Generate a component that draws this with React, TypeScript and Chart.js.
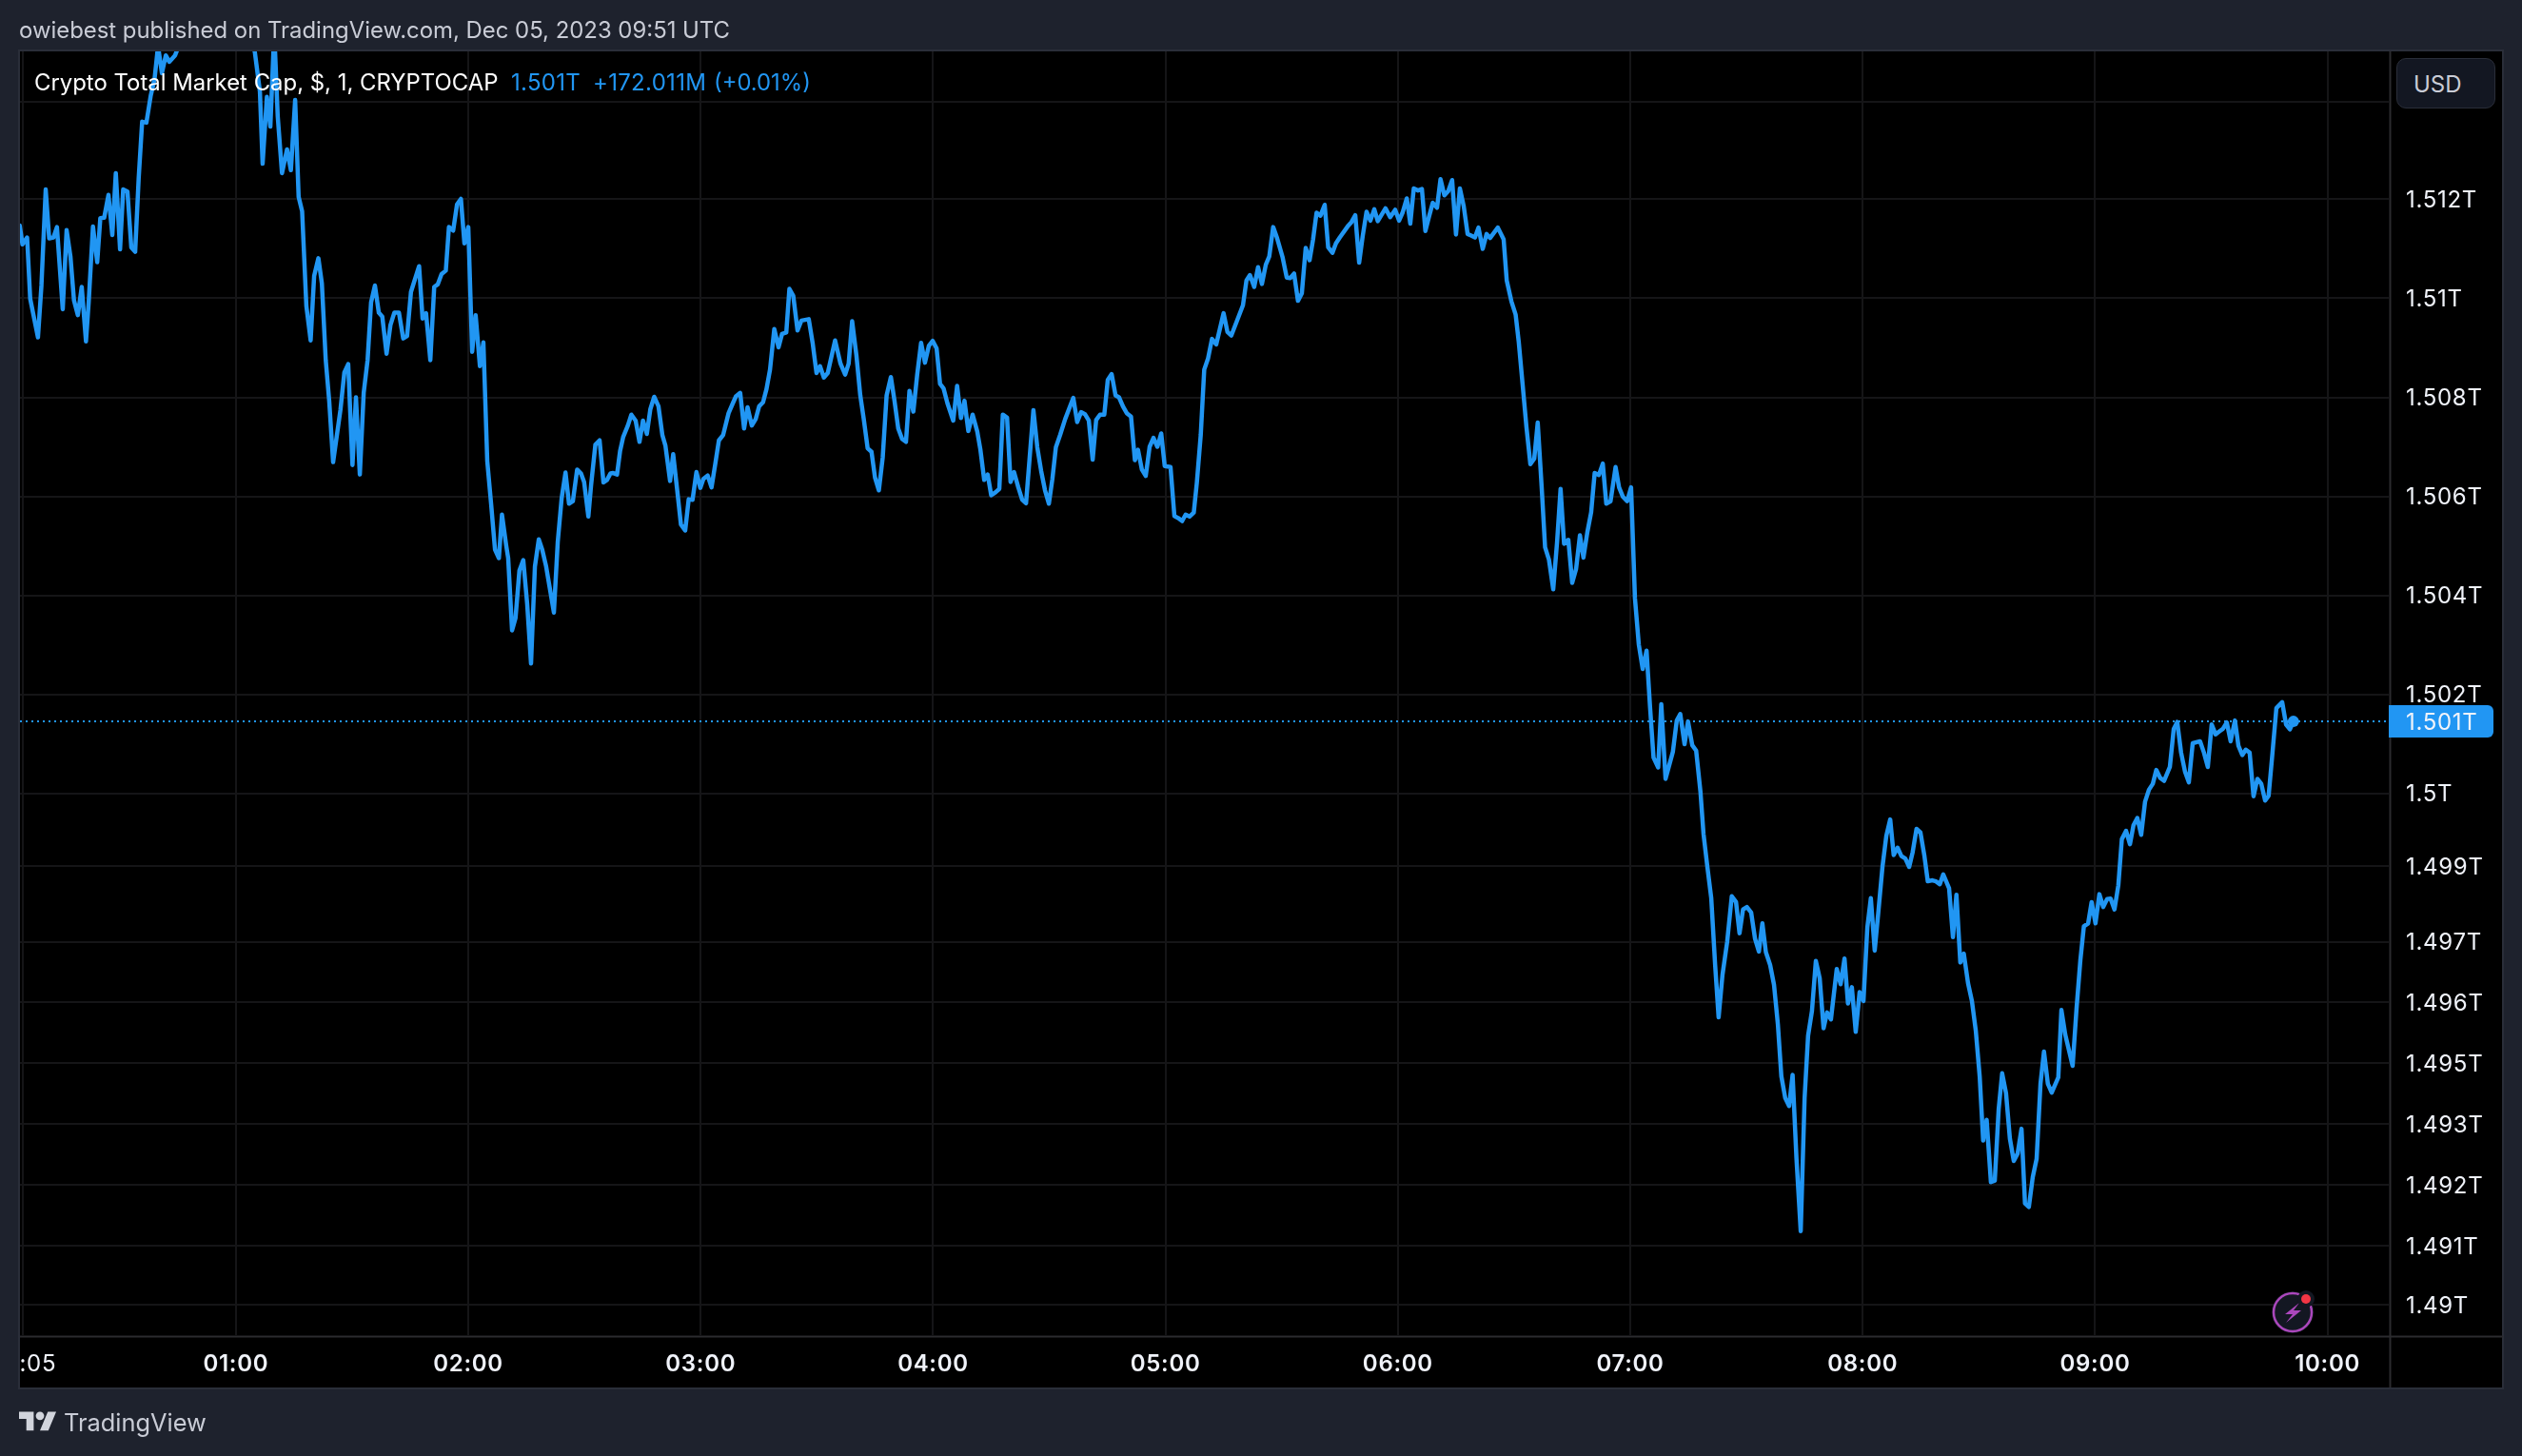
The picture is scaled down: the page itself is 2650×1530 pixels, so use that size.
import React, { useEffect, useRef } from "react";
import { Chart, registerables } from "chart.js";

Chart.register(...registerables);

// Each pair: minutes after 00:00 UTC, total market cap in $ billions
const hour0 = [[4.2,1511.47],[4.9,1511.09],[6.1,1511.23],[6.9,1509.99],[8.9,1509.21],[9.8,1510.26],[10.9,1512.20],[11.8,1511.21],[12.9,1511.23],[13.8,1511.44],[15.3,1509.78],[16.3,1511.38],[17.3,1510.84],[18.2,1509.96],[19.2,1509.66],[20.2,1510.23],[21.3,1509.13],[22.0,1509.92],[23.1,1511.45],[24.2,1510.73],[25.0,1511.62],[26.0,1511.63],[27.1,1512.09],[28.1,1511.28],[29.0,1512.53],[30.1,1510.99],[30.9,1512.20],[32.0,1512.16],[33.0,1511.03],[34.0,1510.94],[34.9,1512.42],[35.8,1513.57],[36.9,1513.55],[38.0,1514.09],[39.0,1514.43],[39.9,1515.1],[40.9,1514.55],[41.9,1514.91],[42.8,1514.78],[44.3,1514.91],[44.8,1515.01],[46.5,1515.8],[52,1516.6],[58,1516.2]];
const hour1 = [[63,1515.6],[64.9,1514.97],[66.2,1514.18],[66.9,1512.72],[68.0,1514.07],[68.9,1513.47],[69.9,1515.4],[70.8,1513.68],[71.9,1512.53],[73.2,1513.01],[74.2,1512.59],[75.3,1514.01],[76.2,1512.05],[77.1,1511.76],[78.2,1509.84],[79.3,1509.15],[80.2,1510.45],[81.3,1510.81],[82.2,1510.30],[83.2,1508.75],[84.1,1507.92],[85.1,1506.69],[87.0,1507.75],[88.0,1508.50],[89.0,1508.67],[90.1,1506.63],[91.0,1508.00],[92.0,1506.44],[93.0,1508.09],[94.0,1508.75],[94.9,1509.92],[95.9,1510.26],[96.9,1509.71],[97.8,1509.63],[98.9,1508.88],[99.9,1509.46],[100.9,1509.71],[102.1,1509.71],[103.2,1509.19],[104.2,1509.24],[105.2,1510.13],[107.3,1510.65],[108.2,1509.59],[109.1,1509.70],[110.2,1508.75],[111.2,1510.23],[112.1,1510.28],[113.1,1510.49],[114.2,1510.56],[115.0,1511.44],[116.1,1511.37],[117.1,1511.90],[118.1,1512.01],[119.0,1511.11]];
const hour2 = [[120.0,1511.44],[121.0,1508.92],[121.9,1509.66],[123.0,1508.63],[123.9,1509.11],[124.9,1506.71],[125.9,1505.84],[126.9,1504.92],[127.9,1504.75],[128.7,1505.63],[129.8,1505.00],[130.3,1504.75],[131.3,1503.29],[132.2,1503.54],[133.2,1504.50],[134.2,1504.71],[135.2,1503.83],[136.2,1502.62],[137.2,1504.58],[138.2,1505.13],[139.1,1504.92],[140.1,1504.58],[142.1,1503.65],[143.1,1505.08],[144.1,1505.96],[145.1,1506.48],[146.0,1505.85],[147.0,1505.90],[148.1,1506.54],[149.1,1506.46],[149.9,1506.29],[151.0,1505.59],[151.7,1506.22],[152.8,1507.04],[153.9,1507.13],[154.9,1506.28],[155.8,1506.33],[156.7,1506.46],[157.4,1506.47],[158.4,1506.44],[159.2,1506.92],[160.0,1507.20],[161.2,1507.43],[162.1,1507.65],[163.2,1507.53],[164.2,1507.10],[165.1,1507.53],[166.1,1507.26],[167.0,1507.76],[168.0,1508.01],[169.1,1507.82],[170.1,1507.24],[170.9,1507.02],[172.1,1506.31],[172.9,1506.85],[173.9,1506.15],[174.9,1505.43],[176.0,1505.31],[176.9,1505.94],[177.9,1505.93],[178.9,1506.49],[179.9,1506.17]];
const hour3 = [[180.7,1506.35],[181.8,1506.42],[182.8,1506.18],[183.8,1506.67],[184.7,1507.13],[185.8,1507.24],[187.2,1507.68],[188.3,1507.88],[189.1,1508.02],[190.2,1508.09],[191.2,1507.37],[192.1,1507.80],[193.2,1507.43],[194.2,1507.56],[195.1,1507.82],[196.1,1507.90],[197.0,1508.17],[197.9,1508.56],[199.0,1509.38],[200.1,1509.01],[201.0,1509.28],[202.1,1509.31],[202.9,1510.19],[203.9,1510.05],[205.0,1509.35],[206.0,1509.55],[207.9,1509.58],[208.9,1509.10],[209.9,1508.49],[210.8,1508.63],[211.8,1508.40],[212.8,1508.49],[214.7,1509.15],[216.1,1508.68],[217.3,1508.46],[218.2,1508.68],[219.1,1509.54],[220.2,1508.85],[221.2,1508.04],[222.1,1507.56],[223.1,1506.97],[224.1,1506.90],[225.0,1506.38],[226.0,1506.12],[227.0,1506.79],[228.0,1508.04],[229.1,1508.41],[230.0,1507.95],[231.0,1507.37],[232.0,1507.16],[233.0,1507.10],[233.9,1508.13],[234.9,1507.71],[235.9,1508.46],[236.9,1509.10],[237.9,1508.70],[238.9,1509.04],[239.9,1509.14]];
const hour4 = [[240.9,1508.99],[241.8,1508.27],[242.7,1508.18],[243.7,1507.88],[245.2,1507.53],[246.2,1508.23],[247.2,1507.58],[248.1,1507.93],[249.1,1507.32],[250.2,1507.65],[251.4,1507.31],[252.2,1506.95],[253.2,1506.33],[254.1,1506.44],[255.0,1506.02],[256.1,1506.08],[257.1,1506.15],[258.0,1507.65],[259.1,1507.59],[260.0,1506.29],[260.9,1506.49],[262.0,1506.18],[263.0,1505.93],[264.0,1505.86],[265.9,1507.74],[266.9,1506.99],[267.9,1506.51],[268.9,1506.12],[269.9,1505.85],[270.8,1506.35],[271.7,1506.99],[272.8,1507.24],[274.1,1507.56],[276.2,1507.99],[277.2,1507.50],[278.2,1507.70],[279.2,1507.66],[280.2,1507.53],[281.2,1506.74],[282.1,1507.54],[283.1,1507.65],[284.2,1507.65],[285.1,1508.35],[286.1,1508.47],[287.1,1508.04],[288.0,1508.00],[289.0,1507.82],[290.0,1507.68],[291.1,1507.61],[292.1,1506.73],[292.9,1506.94],[293.9,1506.54],[294.9,1506.41],[295.9,1507.00],[296.9,1507.18],[297.9,1507.00],[298.9,1507.27],[299.8,1506.61]];
const hour5 = [[301.3,1506.59],[302.3,1505.60],[303.3,1505.56],[304.3,1505.50],[305.2,1505.63],[306.2,1505.59],[307.3,1505.67],[308.1,1506.28],[309.1,1507.24],[310.0,1508.56],[311.0,1508.79],[312.0,1509.18],[313.1,1509.07],[315.0,1509.70],[316.0,1509.32],[317.0,1509.25],[320.0,1509.86],[320.9,1510.36],[321.8,1510.47],[322.9,1510.23],[323.9,1510.63],[324.9,1510.29],[325.9,1510.68],[326.8,1510.85],[327.8,1511.44],[328.8,1511.22],[330.2,1510.84],[331.3,1510.42],[332.2,1510.41],[333.2,1510.50],[334.2,1509.95],[335.2,1510.10],[336.2,1511.02],[337.2,1510.77],[338.1,1511.19],[339.0,1511.73],[340.0,1511.67],[341.1,1511.89],[342.0,1511.03],[343.1,1510.92],[344.0,1511.11],[345.0,1511.23],[347.0,1511.45],[348.0,1511.54],[349.0,1511.68],[350.0,1510.72],[350.9,1511.25],[351.9,1511.75],[352.9,1511.57],[353.9,1511.80],[354.8,1511.56],[356.8,1511.82],[358.0,1511.64],[359.3,1511.79]];
const hour6 = [[360.3,1511.57],[361.2,1511.73],[362.3,1512.02],[363.2,1511.51],[364.1,1512.22],[365.2,1512.18],[366.2,1512.21],[367.1,1511.36],[368.1,1511.67],[369.0,1511.93],[370.1,1511.83],[371.0,1512.41],[372.0,1512.08],[373.0,1512.17],[374.0,1512.39],[375.0,1511.29],[376.0,1512.22],[377.0,1511.86],[378.0,1511.30],[378.9,1511.27],[379.9,1511.23],[380.8,1511.43],[381.9,1511.00],[382.9,1511.30],[383.8,1511.22],[385.8,1511.43],[387.3,1511.19],[388.1,1510.36],[389.3,1509.94],[390.4,1509.67],[391.2,1509.12],[392.2,1508.26],[393.2,1507.39],[394.2,1506.65],[395.2,1506.76],[396.1,1507.49],[397.1,1506.21],[398.0,1504.97],[399.0,1504.72],[400.1,1504.12],[401.1,1505.08],[402.0,1506.15],[402.9,1505.04],[404.0,1505.12],[405.0,1504.25],[406.0,1504.53],[407.0,1505.21],[407.9,1504.76],[408.9,1505.27],[409.9,1505.68],[410.8,1506.47],[411.9,1506.43],[412.9,1506.66],[413.8,1505.85],[414.9,1505.90],[416.2,1506.59],[417.1,1506.18],[418.1,1505.99],[419.2,1505.90]];
const hour7 = [[420.2,1506.18],[421.2,1503.94],[422.2,1503.00],[423.2,1502.51],[424.2,1502.88],[425.1,1501.74],[426.0,1500.72],[427.2,1500.52],[428.0,1501.80],[429.1,1500.29],[430.0,1500.55],[431.0,1500.84],[432.0,1501.47],[432.9,1501.60],[434.0,1500.99],[434.9,1501.45],[436.0,1500.97],[437.0,1500.86],[438.1,1500.04],[438.9,1499.18],[439.9,1498.51],[440.9,1497.88],[441.9,1496.53],[442.8,1495.47],[443.8,1496.33],[445.0,1496.99],[446.2,1497.92],[447.3,1497.80],[448.2,1497.17],[449.1,1497.65],[450.1,1497.70],[451.2,1497.59],[452.2,1497.06],[453.2,1496.80],[454.1,1497.37],[455.0,1496.79],[456.1,1496.53],[457.1,1496.13],[458.1,1495.33],[459.0,1494.28],[460.0,1493.84],[461.0,1493.68],[461.9,1494.31],[462.9,1492.62],[464.0,1491.15],[465.0,1493.84],[465.9,1495.10],[466.9,1495.60],[467.9,1496.61],[468.9,1496.26],[469.9,1495.25],[470.8,1495.57],[471.8,1495.43],[473.3,1496.45],[474.3,1496.14],[475.3,1496.66],[476.2,1495.75],[477.2,1496.08],[478.2,1495.18],[479.2,1495.98]];
const hour8 = [[480.2,1495.80],[481.2,1497.29],[482.1,1497.88],[483.1,1496.82],[484.1,1497.65],[485.1,1498.51],[486.1,1499.14],[487.1,1499.47],[488.0,1498.75],[489.0,1498.90],[490.0,1498.73],[491.0,1498.68],[492.0,1498.51],[492.9,1498.81],[493.9,1499.28],[494.9,1499.21],[495.9,1498.75],[496.8,1498.22],[498.0,1498.24],[498.9,1498.22],[499.9,1498.16],[500.8,1498.36],[502.3,1498.08],[503.3,1497.09],[504.2,1497.95],[505.2,1496.58],[506.1,1496.76],[507.2,1496.16],[508.2,1495.80],[509.2,1495.20],[510.2,1494.28],[511.1,1492.98],[512.0,1493.40],[513.1,1492.14],[514.1,1492.17],[515.1,1493.61],[516.0,1494.34],[517.0,1493.94],[518.0,1493.02],[519.0,1492.57],[520.0,1492.72],[521.0,1493.22],[521.9,1491.71],[522.9,1491.64],[523.9,1492.24],[524.9,1492.61],[525.9,1494.13],[526.8,1494.78],[527.8,1494.13],[528.8,1493.95],[530.5,1494.26],[531.3,1495.62],[532.3,1495.12],[534.2,1494.49],[535.2,1495.64],[536.2,1496.63],[537.1,1497.31],[538.2,1497.37],[539.1,1497.80]];
const hour9 = [[540.1,1497.37],[541.1,1497.96],[542.1,1497.70],[543.1,1497.86],[544.0,1497.87],[545.0,1497.65],[546.0,1498.14],[546.9,1499.07],[548.0,1499.24],[549.0,1498.97],[549.9,1499.35],[550.9,1499.50],[551.9,1499.16],[552.9,1499.83],[553.9,1500.07],[554.9,1500.19],[555.8,1500.47],[556.8,1500.31],[557.8,1500.25],[559.3,1500.53],[560.3,1501.30],[561.2,1501.44],[562.2,1500.82],[563.2,1500.44],[564.2,1500.22],[565.2,1501.01],[567.1,1501.05],[568.1,1500.82],[569.1,1500.53],[570.1,1501.39],[571.1,1501.19],[572.1,1501.25],[573.0,1501.30],[574.0,1501.43],[575.0,1501.05],[576.1,1501.47],[577.0,1500.96],[578.0,1500.77],[578.9,1500.88],[579.9,1500.82],[580.9,1499.94],[581.9,1500.29],[582.9,1500.19],[583.9,1499.85],[584.8,1499.95],[585.8,1500.82],[586.8,1501.72],[588.3,1501.84],[589.3,1501.39],[590.3,1501.29],[591.2,1501.45]];

const lastPrice = 1501.45;
const lastPriceLabel = "1.501T";
const priceTickValues = [1513.98, 1512, 1510, 1508, 1506, 1504, 1502, lastPrice, 1500, 1498.52, 1497, 1495.77, 1494.55, 1493.31, 1492.09, 1490.86, 1489.66];
const priceTickLabels = ["", "1.512T", "1.51T", "1.508T", "1.506T", "1.504T", "1.502T", lastPriceLabel, "1.5T", "1.499T", "1.497T", "1.496T", "1.495T", "1.493T", "1.492T", "1.491T", "1.49T"];
const timeTickValues = [5, 60, 120, 180, 240, 300, 360, 420, 480, 540, 600];
const timeTickLabels = ["00:05", "01:00", "02:00", "03:00", "04:00", "05:00", "06:00", "07:00", "08:00", "09:00", "10:00"];

const series = [...hour0, ...hour1, ...hour2, ...hour3, ...hour4, ...hour5, ...hour6, ...hour7, ...hour8, ...hour9];

const PAGE = "#1e222d";
const BLUE = "#2196f3";
const EDGE = "#2a2e39";
const FONT = "Inter, 'Noto Sans', sans-serif";

const frame = {
  id: "frame",
  beforeDraw(chart: any) {
    const c = chart.ctx;
    c.save();
    c.fillStyle = PAGE;
    c.fillRect(0, 0, 2650, 1530);
    c.fillStyle = "#000";
    c.fillRect(20, 53, 2610, 1406);
    c.strokeStyle = EDGE;
    c.lineWidth = 2;
    c.strokeRect(20, 53, 2610, 1406);
    c.strokeStyle = "#2b2b2e";
    c.beginPath();
    c.moveTo(2511.5, 54);
    c.lineTo(2511.5, 1458);
    c.moveTo(21, 1404.5);
    c.lineTo(2630, 1404.5);
    c.stroke();
    // last price tag
    c.fillStyle = BLUE;
    c.beginPath();
    c.roundRect(2510, 741, 110, 34, [0, 6, 6, 0]);
    c.fill();
    c.restore();
    c.letterSpacing = "0.7px";
  },
  afterDraw(chart: any) {
    const c = chart.ctx;
    c.letterSpacing = "0px";
    c.save();
    // left edge clips the first time label
    c.fillStyle = PAGE;
    c.fillRect(0, 1406, 19, 52);
    c.fillStyle = EDGE;
    c.fillRect(19, 1406, 2, 52);
    // snapshot badge
    c.fillStyle = "#131722";
    c.beginPath();
    c.arc(2409, 1379, 22, 0, Math.PI * 2);
    c.fill();
    c.strokeStyle = "#ab47bc";
    c.lineWidth = 2.5;
    c.beginPath();
    c.arc(2409, 1379, 20, 0, Math.PI * 2);
    c.stroke();
    c.fillStyle = "#ab47bc";
    c.beginPath();
    c.moveTo(2416, 1369);
    c.lineTo(2401, 1381);
    c.lineTo(2409, 1381);
    c.lineTo(2402, 1390);
    c.lineTo(2418, 1377);
    c.lineTo(2410, 1377);
    c.closePath();
    c.fill();
    c.fillStyle = "#131722";
    c.beginPath();
    c.arc(2423, 1365, 9, 0, Math.PI * 2);
    c.fill();
    c.fillStyle = "#f23645";
    c.beginPath();
    c.arc(2423, 1365, 5, 0, Math.PI * 2);
    c.fill();
    c.restore();
  },
};

const text = (left: number, top: number, size: number, color: string, extra: any = {}) => ({
  position: "absolute" as const,
  left,
  top,
  fontSize: size,
  lineHeight: "30px",
  color,
  fontFamily: FONT,
  whiteSpace: "nowrap" as const,
  ...extra,
});

export default function App() {
  const ref = useRef<HTMLCanvasElement | null>(null);

  useEffect(() => {
    const points = series.map(([x, y]) => ({ x, y }));
    const xMin = 4.26;
    const xMax = 616.06;
    const chart = new Chart(ref.current as HTMLCanvasElement, {
      type: "line",
      plugins: [frame],
      data: {
        datasets: [
          {
            label: "Last price",
            data: [{ x: xMin, y: lastPrice }, { x: xMax, y: lastPrice }],
            borderColor: BLUE,
            borderWidth: 2,
            borderDash: [2, 4],
            pointRadius: 0,
            clip: 0,
            order: 2,
          },
          {
            label: "Crypto Total Market Cap",
            data: points,
            borderColor: BLUE,
            backgroundColor: BLUE,
            borderWidth: 4.5,
            borderJoinStyle: "round",
            borderCapStyle: "round",
            tension: 0,
            clip: 0,
            order: 1,
            pointBorderWidth: 0,
            pointRadius: (ctx: any) => (ctx.dataIndex === points.length - 1 ? 6 : 0),
          },
        ],
      },
      options: {
        animation: false,
        responsive: false,
        devicePixelRatio: 1,
        events: [],
        layout: { padding: { left: 21, top: 54, right: 20, bottom: 71 } },
        plugins: { legend: { display: false }, tooltip: { enabled: false }, title: { display: false } },
        scales: {
          x: {
            type: "linear",
            min: xMin,
            max: xMax,
            bounds: "data",
            border: { display: false },
            grid: { color: "#151517", lineWidth: 2, drawTicks: false },
            afterBuildTicks(s: any) {
              s.ticks = timeTickValues.map((value) => ({ value }));
            },
            afterFit(s: any) {
              s.height = 55;
              s.paddingLeft = 0;
              s.paddingRight = 0;
            },
            ticks: {
              autoSkip: false,
              maxRotation: 0,
              minRotation: 0,
              padding: 15,
              color: "#f0f3fa",
              font: (ctx: any) => ({
                family: FONT,
                size: 24,
                weight: ctx.tick && ctx.tick.value === 5 ? "400" : "600",
              }),
              callback: (v: any) => timeTickLabels[timeTickValues.indexOf(v)],
            },
          },
          y: {
            type: "linear",
            position: "right",
            min: 1489.03,
            max: 1514.99,
            bounds: "data",
            border: { display: false },
            grid: {
              lineWidth: 2,
              drawTicks: false,
              color: (ctx: any) => (ctx.tick && ctx.tick.value === lastPrice ? "rgba(0,0,0,0)" : "#151517"),
            },
            afterBuildTicks(s: any) {
              s.ticks = priceTickValues.map((value) => ({ value }));
            },
            afterFit(s: any) {
              s.width = 119;
              s.paddingTop = 0;
              s.paddingBottom = 0;
              if (!s.__shifted) {
                // nudge label glyphs down so they sit centred on their gridlines
                const original = s._computeLabelItems.bind(s);
                s._computeLabelItems = (area: any) =>
                  original(area).map((item: any) => ({
                    ...item,
                    options: {
                      ...item.options,
                      translation: [item.options.translation[0], item.options.translation[1] + 1.5],
                    },
                  }));
                s.__shifted = true;
              }
            },
            ticks: {
              autoSkip: false,
              padding: 17,
              crossAlign: "near",
              color: "#f0f3fa",
              font: { family: FONT, size: 24, weight: "400" },
              callback: (v: any) => priceTickLabels[priceTickValues.indexOf(v)],
            },
          },
        },
      },
    } as any);
    return () => chart.destroy();
  }, []);

  return (
    <div style={{ position: "fixed", left: 0, top: 0, width: 2650, height: 1530, background: PAGE, overflow: "hidden" }}>
      <canvas ref={ref} width={2650} height={1530} style={{ display: "block" }} />
      <div style={text(20, 17, 23.9, "#c9ccd6")}>owiebest published on TradingView.com, Dec 05, 2023 09:51 UTC</div>
      <div style={text(36, 72, 23.9, "#ffffff")}>Crypto Total Market Cap, $, 1, CRYPTOCAP</div>
      <div style={text(537, 72, 24, BLUE, { letterSpacing: 0.3 })}>1.501T</div>
      <div style={text(623, 72, 24, BLUE, { letterSpacing: 0.3 })}>+172.011M</div>
      <div style={text(750, 72, 23.8, BLUE)}>(+0.01%)</div>
      <div
        style={{
          position: "absolute",
          left: 2518,
          top: 61,
          width: 104,
          height: 53,
          boxSizing: "border-box",
          background: "#131722",
          border: "1px solid #2a2e39",
          borderRadius: 10,
        }}
      />
      <div style={text(2536, 74, 24, "#c9ccd6")}>USD</div>
      <svg style={{ position: "absolute", left: 20, top: 1479 }} width={39.6} height={30.8} viewBox="0 0 36 28">
        <path d="M14 22H7V11H0V4h14v18zM28 22h-8l7.5-18h8L28 22z" fill="#d1d4dc" />
        <circle cx="20" cy="8" r="4" fill="#d1d4dc" />
      </svg>
      <div style={text(67, 1480, 25.4, "#c9ccd6")}>TradingView</div>
    </div>
  );
}
